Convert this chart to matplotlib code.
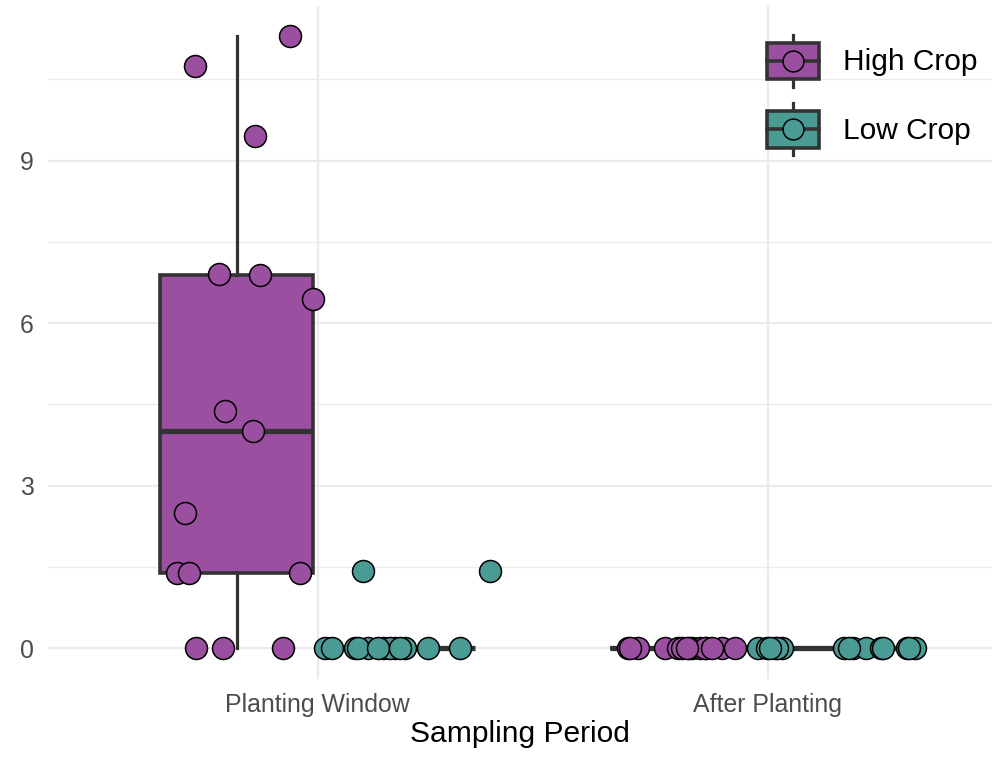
import matplotlib
matplotlib.use("Agg")
import matplotlib.pyplot as plt
from matplotlib.legend_handler import HandlerBase
from matplotlib.patches import Rectangle, Patch
from matplotlib.lines import Line2D
import numpy as np

plt.rcParams['font.family'] = ['Liberation Sans', 'DejaVu Sans']

# ---- data ----
periods = ["Planting Window", "After Planting"]
groups = ["High Crop", "Low Crop"]
colors = {"High Crop": "#9A4FA0", "Low Crop": "#4B9B95"}

high_pw = [10.74, 11.29, 9.45, 6.91, 6.88, 6.45, 4.38, 4.01, 2.50, 1.40, 1.40, 1.39, 0, 0, 0]
high_pw_jit = [-0.273, -0.062, -0.140, -0.220, -0.129, -0.011, -0.207, -0.144, -0.296, -0.313, -0.287, -0.040, -0.271, -0.211, -0.078]

low_pw = [1.42, 1.42, 0, 0, 0, 0, 0, 0, 0, 0, 0, 0, 0, 0, 0]
low_pw_jit = [0.100, 0.382, 0.016, 0.031, 0.082, 0.111, 0.144, 0.171, 0.193, 0.244, 0.316, 0.090, 0.160, 0.133, 0.182]

high_ap = [0] * 15
high_ap_jit = [-0.311, -0.289, -0.229, -0.200, -0.191, -0.169, -0.151, -0.136, -0.102, -0.073, -0.305, -0.175, -0.140, -0.180, -0.124]

low_ap = [0] * 15
low_ap_jit = [-0.022, -0.002, 0.016, 0.033, 0.171, 0.189, 0.220, 0.253, 0.311, 0.327, 0.020, 0.182, 0.256, 0.315, 0.005]

series = [
    (0, "High Crop", high_pw, high_pw_jit),
    (0, "Low Crop", low_pw, low_pw_jit),
    (1, "High Crop", high_ap, high_ap_jit),
    (1, "Low Crop", low_ap, low_ap_jit),
]

dodge = {"High Crop": -0.18, "Low Crop": 0.18}
box_w = 0.34
edge = "#333333"

fig = plt.figure(figsize=(9.92, 7.65), dpi=100)
ax = fig.add_axes([0.0484, 0.1124, 0.952, 0.880])

# grid
for v in [1.5, 4.5, 7.5, 10.5]:
    ax.axhline(v, color="#ebebeb", lw=0.9, zorder=0)
for v in [0, 3, 6, 9]:
    ax.axhline(v, color="#ebebeb", lw=1.6, zorder=0)
for v in [0, 1]:
    ax.axvline(v, color="#ebebeb", lw=1.6, zorder=0)

for cat, grp, vals, jit in series:
    pos = cat + dodge[grp]
    ax.boxplot([vals], positions=[pos], widths=box_w, patch_artist=True,
               showfliers=False, whis=1.5, showcaps=False,
               boxprops=dict(facecolor=colors[grp], edgecolor=edge, linewidth=2.6),
               whiskerprops=dict(color=edge, linewidth=2.3),
               medianprops=dict(color=edge, linewidth=3.8, solid_capstyle='butt'),
               zorder=2, manage_ticks=False)

for cat, grp, vals, jit in series:
    xs = cat + np.array(jit)
    ax.scatter(xs, vals, s=250, facecolor=colors[grp], edgecolor="black",
               linewidth=1.1, zorder=3)

ax.set_xlim(-0.6, 1.5)
ax.set_ylim(-0.565, 11.855)
ax.set_xticks([0, 1])
ax.set_xticklabels(periods)
ax.set_yticks([0, 3, 6, 9])
ax.tick_params(axis='both', length=0, labelsize=17.9, labelcolor="#4d4d4d")
ax.tick_params(axis='x', pad=10)
ax.tick_params(axis='y', pad=10)
for s in ax.spines.values():
    s.set_visible(False)
ax.set_xlabel("Sampling Period", fontsize=21.6, labelpad=2)


class BoxHandler(HandlerBase):
    def create_artists(self, legend, orig_handle, xdescent, ydescent, width,
                       height, fontsize, trans):
        fc = orig_handle.get_facecolor()
        x0, y0 = -xdescent, -ydescent
        cx = x0 + width / 2
        cy = y0 + height / 2
        bh = height * 0.7
        rect = Rectangle((x0, cy - bh / 2), width, bh, facecolor=fc,
                         edgecolor=edge, linewidth=2.6, transform=trans)
        w1 = Line2D([cx, cx], [cy + bh / 2, y0 + height], color=edge, lw=2.3, transform=trans)
        w2 = Line2D([cx, cx], [y0, cy - bh / 2], color=edge, lw=2.3, transform=trans)
        med = Line2D([x0, x0 + width], [cy, cy], color=edge, lw=2.6, transform=trans)
        pt = Line2D([cx], [cy], marker='o', markersize=15, markerfacecolor=fc,
                    markeredgecolor='black', markeredgewidth=1.1, linestyle='none',
                    transform=trans)
        return [w1, w2, rect, med, pt]


handles = [Patch(facecolor=colors[g]) for g in groups]
fig.legend(handles, groups, handler_map={Patch: BoxHandler()},
           loc='upper left', bbox_to_anchor=(767 / 992, (765 - 35) / 765),
           frameon=False, fontsize=21.5, borderpad=0, handlelength=1.75,
           handleheight=2.3, handletextpad=0.8, labelspacing=0.55,
           borderaxespad=0)

fig.savefig("out.png", dpi=100)
